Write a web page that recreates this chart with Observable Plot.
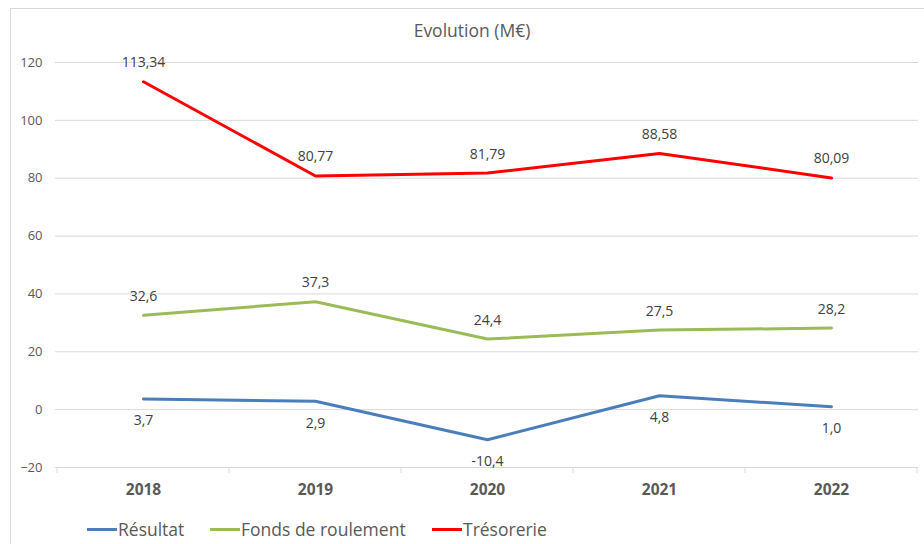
<!DOCTYPE html>
<html>
<head>
<meta charset="utf-8">
<script src="https://cdn.jsdelivr.net/npm/d3@7"></script>
<script src="https://cdn.jsdelivr.net/npm/@observablehq/plot@0.6"></script>
<style>
  html, body { margin: 0; padding: 0; background: #fff; width: 924px; height: 544px; overflow: hidden; }
  body { font-family: "Open Sans", sans-serif; position: relative; }
  #frame { position: absolute; left: 10px; top: 8px; width: 930px; height: 560px; border-left: 1px solid #d9d9d9; border-top: 1px solid #d9d9d9; }
  #title { position: absolute; left: 0; width: 944px; top: 18px; text-align: center; font-size: 17.5px; color: #595959; }
  #chart { position: absolute; left: 0; top: 50px; }
  #legend { position: absolute; top: 517px; left: 0; font-size: 17.5px; color: #595959; }
  .item { position: absolute; white-space: nowrap; display: flex; align-items: center; }
  .swatch { display: inline-block; width: 30px; height: 3px; margin-right: 1px; }
</style>
</head>
<body>
<div id="frame"></div>
<div id="title">Evolution (M€)</div>
<div id="chart"></div>
<div id="legend"></div>
<script>
const years = ["2018", "2019", "2020", "2021", "2022"];
const resultat = [3.7, 2.9, -10.4, 4.8, 1.0];
const fondsRoulement = [32.6, 37.3, 24.4, 27.5, 28.2];
const tresorerie = [113.34, 80.77, 81.79, 88.58, 80.09];
const yTicks = [-20, 0, 20, 40, 60, 80, 100, 120];
const seriesNames = ["Résultat", "Fonds de roulement", "Trésorerie"];
const seriesColors = ["#4a7ebb", "#9bbb59", "#ff0000"];
const seriesDecimals = [1, 1, 2];
const seriesLabelBelow = [true, false, false];

const allValues = [resultat, fondsRoulement, tresorerie];
const data = [];
allValues.forEach((vals, s) => {
  vals.forEach((v, i) => data.push({
    series: seriesNames[s], year: years[i], value: v,
    label: v.toFixed(seriesDecimals[s]).replace(".", ","),
    below: seriesLabelBelow[s]
  }));
});

const chart = Plot.plot({
  width: 924,
  height: 460,
  marginTop: 12,
  marginBottom: 43,
  marginLeft: 55,
  marginRight: 6,
  style: { fontFamily: "'Open Sans', sans-serif", background: "transparent", overflow: "visible" },
  x: { type: "band", domain: years, padding: 0, label: null },
  y: { domain: [-20, 120], ticks: yTicks, label: null },
  color: { domain: seriesNames, range: seriesColors },
  marks: [
    Plot.ruleY(yTicks, { stroke: "#d9d9d9", strokeWidth: 1 }),
    Plot.axisY({ ticks: yTicks, tickSize: 0, tickPadding: 13, fontSize: 13, fill: "#595959", label: null }),
    Plot.axisX({ tickSize: 0, tickPadding: 16, fontSize: 15.5, fontWeight: "bold", fill: "#595959", label: null }),
    Plot.line(data, { x: "year", y: "value", z: "series", stroke: "series", strokeWidth: 3, curve: "linear" }),
    Plot.text(data.filter(d => !d.below), { x: "year", y: "value", text: "label", dy: -19, fontSize: 14, fill: "#404040" }),
    Plot.text(data.filter(d => d.below), { x: "year", y: "value", text: "label", dy: 22, fontSize: 14, fill: "#404040" })
  ]
});

// boundary tick marks on the bottom axis, from the library's x scale
const xs = chart.scale("x");
const ys = chart.scale("y");
const bw = xs.bandwidth;
const bounds = years.map(y => xs.apply(y)).concat([xs.apply(years[years.length - 1]) + bw]);
const y0 = ys.apply(-20);
const svg = d3.select(chart);
svg.append("g").selectAll("line").data(bounds).join("line")
  .attr("x1", d => d).attr("x2", d => d)
  .attr("y1", y0).attr("y2", y0 + 6)
  .attr("stroke", "#d9d9d9");

document.getElementById("chart").appendChild(chart);

const legendPos = [87, 210, 432];
const legend = document.getElementById("legend");
seriesNames.forEach((name, i) => {
  const item = document.createElement("div");
  item.className = "item";
  item.style.left = legendPos[i] + "px";
  item.innerHTML = `<span class="swatch" style="background:${seriesColors[i]}"></span><span>${name}</span>`;
  legend.appendChild(item);
});
</script>
</body>
</html>
